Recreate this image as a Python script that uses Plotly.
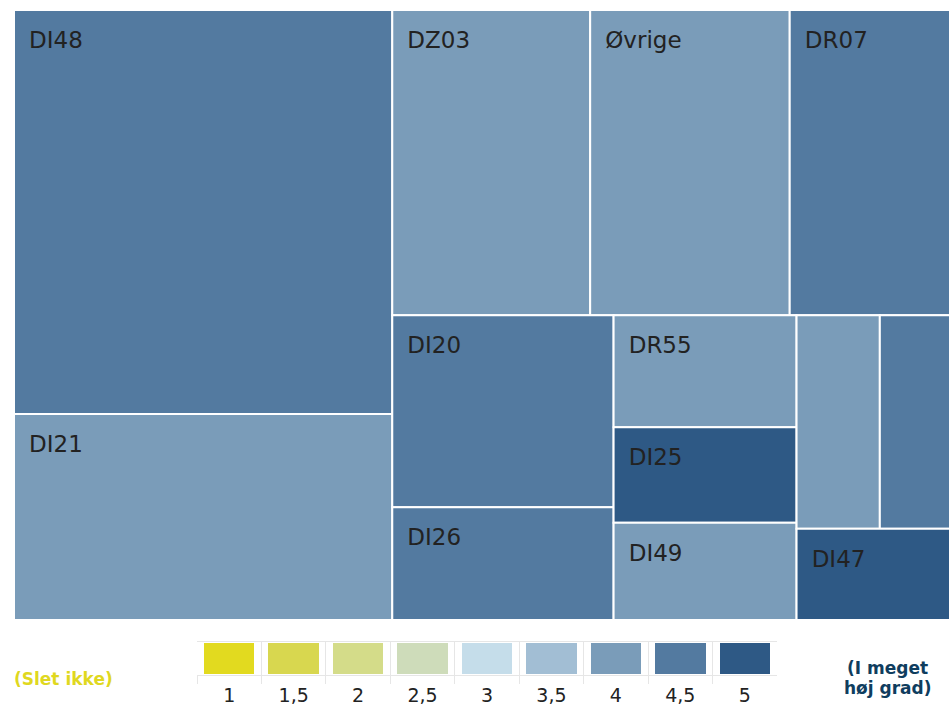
import plotly.graph_objects as go

# Treemap data: unit, size and mean score
units = ["DI48", "DI21", "DZ03", "Øvrige", "DR07", "DI20", "DI26",
         "DR55", "DI25", "DI49", "Enhed 11", "Enhed 12", "DI47"]
sizes = [153, 78, 60.5, 61, 49, 42.5, 25, 20.5, 17.5, 17.8, 17.8, 15, 14]
scores = [4.5, 4, 4, 4, 4.5, 4.5, 4.5, 4, 5, 4, 4, 4.5, 5]
show_label = [True, True, True, True, True, True, True,
              True, True, True, False, False, True]

# Colour scale classes
scale_values = [1, 1.5, 2, 2.5, 3, 3.5, 4, 4.5, 5]
scale_labels = ["1", "1,5", "2", "2,5", "3", "3,5", "4", "4,5", "5"]
scale_colors = ["#E2DA1F", "#D8D74F", "#D4DC89", "#CEDCBA", "#C5DDEA",
                "#A2BED4", "#7A9CB9", "#537AA0", "#2E5985"]

color_of = dict(zip(scale_values, scale_colors))
W, H = 950, 707

# leading wide space indents the label and pushes it down inside the tile
pad_span = "<span style='font-size:38px'>&nbsp;</span>"
tile_text = [pad_span + u if s else "" for u, s in zip(units, show_label)]

fig = go.Figure()

fig.add_trace(go.Treemap(
    labels=units,
    parents=[""] * len(units),
    values=sizes,
    text=tile_text,
    texttemplate="%{text}",
    textposition="top left",
    textfont=dict(family="DejaVu Sans", size=23, color="#222222"),
    marker=dict(colors=[color_of[s] for s in scores],
                line=dict(color="#FFFFFF", width=2),
                pad=dict(t=0, l=0, r=0, b=0)),
    tiling=dict(packing="squarify", squarifyratio=1.618, pad=0),
    sort=False,
    pathbar=dict(visible=False),
    hoverinfo="skip",
    domain=dict(x=[14 / W, 1], y=[87 / H, 697 / H]),
))

# Colour classes legend drawn as a one-row heatmap
fig.add_trace(go.Heatmap(
    x=scale_labels,
    y=[0],
    z=[scale_values],
    zmin=1, zmax=5,
    colorscale=[[(v - 1) / 4, c] for v, c in zip(scale_values, scale_colors)],
    showscale=False,
    xgap=14, ygap=2,
    hoverinfo="skip",
    xaxis="x", yaxis="y",
))

fig.update_layout(
    width=W, height=H,
    margin=dict(l=0, r=0, t=0, b=0),
    paper_bgcolor="#FFFFFF",
    plot_bgcolor="#FFFFFF",
    showlegend=False,
    xaxis=dict(
        domain=[197 / W, 777 / W],
        type="category",
        tickson="boundaries",
        ticks="outside", ticklen=8, tickcolor="#E6E6E6", tickwidth=1,
        ticklabelstandoff=3,
        showline=True, linecolor="#E6E6E6", linewidth=1, mirror=True,
        showgrid=True, gridcolor="#E6E6E6", gridwidth=1,
        tickfont=dict(family="DejaVu Sans", size=19, color="#222222"),
        fixedrange=True,
    ),
    yaxis=dict(
        domain=[32 / H, 65 / H],
        visible=False,
        range=[-0.5, 0.5],
        fixedrange=True,
    ),
    annotations=[
        dict(text="<b>(Slet ikke)</b>", x=63.5 / W, y=(H - 679) / H,
             xanchor="center", yanchor="middle",
             xref="paper", yref="paper", showarrow=False,
             font=dict(family="DejaVu Sans", size=17, color="#E0D81F")),
        dict(text="<b>(I meget</b>", x=887 / W, y=(H - 668) / H,
             xanchor="center", yanchor="middle",
             xref="paper", yref="paper", showarrow=False,
             font=dict(family="DejaVu Sans", size=17, color="#0F3D5E")),
        dict(text="<b>høj grad)</b>", x=888 / W, y=(H - 688) / H,
             xanchor="center", yanchor="middle",
             xref="paper", yref="paper", showarrow=False,
             font=dict(family="DejaVu Sans", size=17, color="#0F3D5E")),
    ],
)

fig.write_html("out.html")
